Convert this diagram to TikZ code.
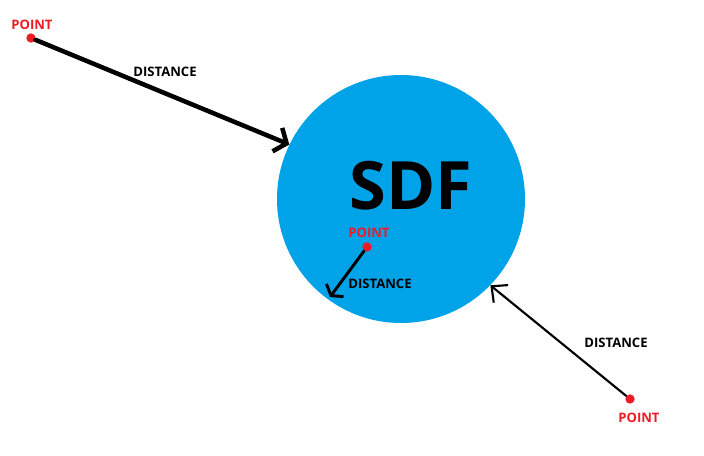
\documentclass[tikz,border=0pt]{standalone}
\usepackage{fontspec}
\setmainfont{Open Sans}
\usetikzlibrary{arrows.meta}
\definecolor{sdfblue}{HTML}{00A2E8}
\definecolor{ptred}{HTML}{ED1C24}
\tikzset{
	dot/.style={circle, fill=ptred, inner sep=0pt, minimum size=7pt},
	lbl/.style={anchor=base, font=\bfseries\fontsize{9.8}{11}\selectfont},
	ptlbl/.style={lbl, text=ptred}
}
\begin{document}
\begin{tikzpicture}[x=0.75pt, y=-0.75pt, line join=round, line cap=round]
		\useasboundingbox (0,0) rectangle (704,456);
		\node[circle, fill=sdfblue, inner sep=0pt, minimum size=186pt] (sdf) at (401,199) {};
		\node[anchor=base, font=\bfseries\fontsize{50}{60}\selectfont] (sdftxt) at (411,210) {SDF};
		\path
		(330,297) coordinate (inner);
		\node[dot] (p1) at (31,38) {};
		\node[dot] (p2) at (367,247) {};
		\node[dot] (p3) at (630,399) {};
		\draw[line width=3.4pt, -{Straight Barb[length=7.5pt, width=19pt]}] (p1) -- (sdf.154);
		\draw[line width=2.2pt, -{Straight Barb[length=5pt, width=16pt]}] (p2) -- (inner);
		\draw[line width=1.6pt, -{Straight Barb[length=9pt, width=17pt]}] (p3) -- (sdf.-44);
		\node[ptlbl] (n1) at (32,30) {POINT};
		\node[ptlbl] (n2) at (369,238) {POINT};
		\node[ptlbl] (n3) at (639,422) {POINT};
		\node[lbl] (d1) at (165,77) {DISTANCE};
		\node[lbl] (d2) at (380,289) {DISTANCE};
		\node[lbl] (d3) at (616,348) {DISTANCE};
	\end{tikzpicture}
\end{document}
